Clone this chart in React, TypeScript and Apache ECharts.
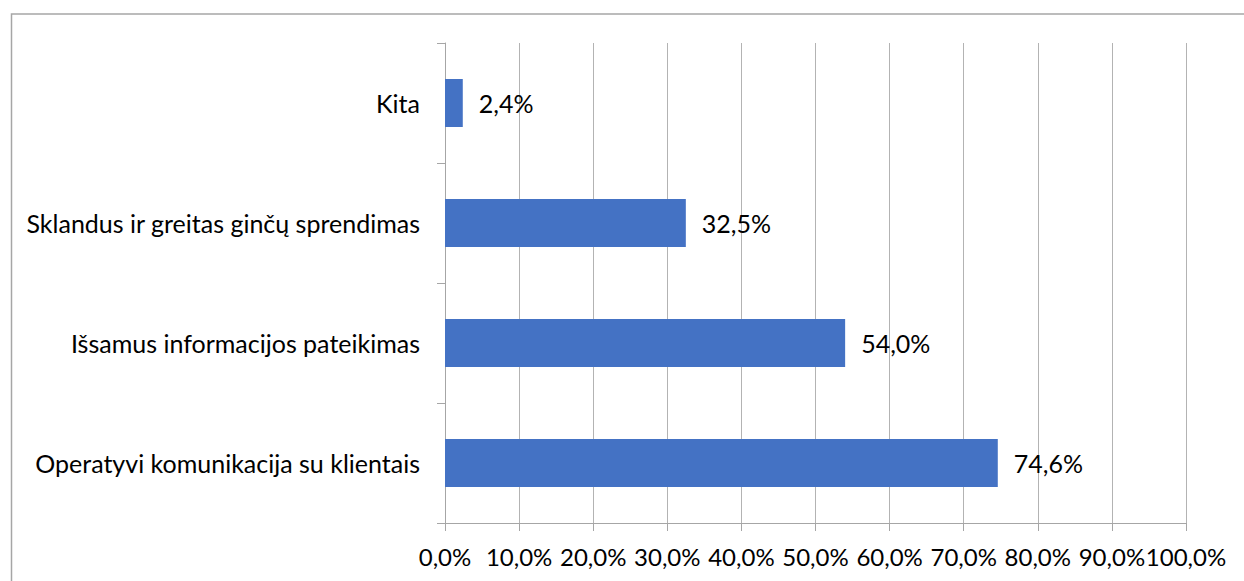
import React, { useEffect, useRef } from "react";
import * as echarts from "echarts";

const categories = [
  "Operatyvi komunikacija su klientais",
  "Išsamus informacijos pateikimas",
  "Sklandus ir greitas ginčų sprendimas",
  "Kita",
];
const values = [74.6, 54.0, 32.5, 2.4];
const xTicks = [0, 10, 20, 30, 40, 50, 60, 70, 80, 90, 100];

const fmt = (v: number) => v.toFixed(1).replace(".", ",") + "%";
const FONT = "Lato";
const FS = 25;

export default function App() {
  const ref = useRef<HTMLDivElement>(null);
  useEffect(() => {
    if (!ref.current) return;
    const chart = echarts.init(ref.current, undefined, { renderer: "svg" });
    chart.setOption({
      animation: false,
      graphic: [
        {
          type: "rect",
          shape: { x: 11.5, y: 14, width: 1300, height: 700 },
          style: { fill: "none", stroke: "#a6a6a6", lineWidth: 1.5 },
          silent: true,
        },
      ],
      grid: { left: 445, right: 58, top: 43, bottom: 58, containLabel: false },
      xAxis: {
        type: "value",
        min: xTicks[0],
        max: xTicks[xTicks.length - 1],
        interval: 10,
        axisLine: { show: true, lineStyle: { color: "#a6a6a6", width: 1 } },
        axisTick: { show: true, length: 8, lineStyle: { color: "#a6a6a6" } },
        splitLine: { show: true, lineStyle: { color: "#b3b3b3", width: 1 } },
        axisLabel: {
          formatter: (v: number) => fmt(v),
          color: "#000",
          fontFamily: FONT,
          fontSize: 24,
          margin: 21,
          showMinLabel: true,
          showMaxLabel: true,
          hideOverlap: false,
          interval: 0,
        },
      },
      yAxis: {
        type: "category",
        data: categories,
        axisLine: { show: true, lineStyle: { color: "#a6a6a6", width: 1 } },
        axisTick: { show: true, length: 8, lineStyle: { color: "#a6a6a6" } },
        axisLabel: {
          color: "#000",
          fontFamily: FONT,
          fontSize: FS,
          margin: 25,
        },
      },
      series: [
        {
          type: "bar",
          data: values,
          barWidth: 48,
          itemStyle: { color: "#4472C4" },
          label: {
            show: true,
            position: "right",
            distance: 16,
            formatter: (p: any) => fmt(p.value),
            color: "#000",
            fontFamily: FONT,
            fontSize: FS,
          },
        },
      ],
    });
    return () => chart.dispose();
  }, []);
  return (
    <div
      ref={ref}
      style={{ position: "absolute", left: 0, top: 0, width: 1244, height: 581, background: "#fff" }}
    />
  );
}
